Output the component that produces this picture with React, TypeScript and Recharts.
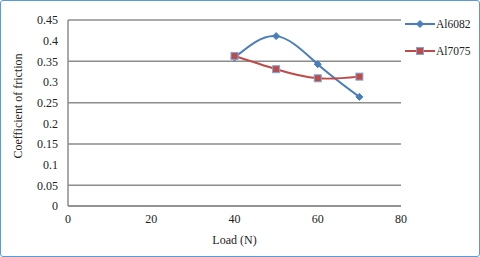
import React from "react"
import { LineChart, Line, XAxis, YAxis, CartesianGrid } from "recharts"

const loads = [40, 50, 60, 70]
const al6082 = [0.359, 0.411, 0.343, 0.264]
const al7075 = [0.363, 0.331, 0.309, 0.313]
const xTicks = [0, 20, 40, 60, 80]
const yTicks = [0, 0.05, 0.1, 0.15, 0.2, 0.25, 0.3, 0.35, 0.4, 0.45]

const data = loads.map((load, i) => ({ load, Al6082: al6082[i], Al7075: al7075[i] }))

const BLUE = "#4A7EBB"
const RED = "#BE4B48"
const GRID = "#8C8C8C"
const FONT = "Liberation Serif"

const Diamond = (props: any) => {
  const { cx, cy } = props
  if (cx == null || cy == null) return null
  const r = 3.5
  return <path d={`M${cx},${cy - r}L${cx + r},${cy}L${cx},${cy + r}L${cx - r},${cy}Z`} fill={BLUE} stroke={BLUE} />
}

const Square = (props: any) => {
  const { cx, cy } = props
  if (cx == null || cy == null) return null
  const s = 7
  return <rect x={cx - s / 2} y={cy - s / 2} width={s} height={s} fill={RED} stroke="#7EA6D8" strokeWidth={1} />
}

// legend drawn as an overlay so it does not shrink the plot area
const LegendBox = () => (
  <svg width={72} height={45} style={{ position: "absolute", left: 404, top: 19, overflow: "visible" }}>
    <line x1={1} y1={5} x2={31} y2={5} stroke={BLUE} strokeWidth={2} />
    <Diamond cx={16} cy={5} />
    <text x={32} y={9} fontSize={11.5} fontFamily={FONT} fill="#222">Al6082</text>
    <line x1={1} y1={32} x2={31} y2={32} stroke={RED} strokeWidth={2} />
    <Square cx={16} cy={32} />
    <text x={32} y={36} fontSize={11.5} fontFamily={FONT} fill="#222">Al7075</text>
  </svg>
)

export default function App() {
  return (
    <div style={{ position: "absolute", top: 0, left: 0, width: 480, height: 257, background: "#fff" }}>
      <LineChart width={480} height={257} data={data} margin={{ top: 20, right: 79, left: 0, bottom: 0 }}>
        <CartesianGrid vertical={false} stroke={GRID} strokeWidth={1.5} />
        <XAxis
          dataKey="load"
          type="number"
          domain={[0, 80]}
          ticks={xTicks}
          height={51}
          tickLine={false}
          axisLine={{ stroke: GRID, strokeWidth: 1.5 }}
          tick={{ fontSize: 12, fontFamily: FONT, fill: "#222" }}
          label={{ value: "Load (N)", position: "insideBottom", offset: 13, fontSize: 12, fontFamily: FONT, fill: "#222" }}
        />
        <YAxis
          type="number"
          domain={[0, 0.45]}
          ticks={yTicks}
          width={68}
          tickLine={false}
          tickMargin={4}
          axisLine={{ stroke: GRID, strokeWidth: 1.5 }}
          tick={{ fontSize: 12, fontFamily: FONT, fill: "#222" }}
          label={{ value: "Coefficient of friction", angle: -90, position: "insideLeft", dx: 13, dy: -7, fontSize: 12, fontFamily: FONT, fill: "#222", style: { textAnchor: "middle" } }}
        />
        <Line type="natural" dataKey="Al6082" stroke={BLUE} strokeWidth={2} dot={<Diamond />} activeDot={false} isAnimationActive={false} />
        <Line type="natural" dataKey="Al7075" stroke={RED} strokeWidth={2} dot={<Square />} activeDot={false} isAnimationActive={false} />
      </LineChart>
      <LegendBox />
      <div
        style={{
          position: "absolute",
          top: 0,
          left: 0,
          width: 480,
          height: 257,
          boxSizing: "border-box",
          border: "1.5px solid #5B9BD5",
          borderRadius: 3,
          pointerEvents: "none",
        }}
      />
    </div>
  )
}
